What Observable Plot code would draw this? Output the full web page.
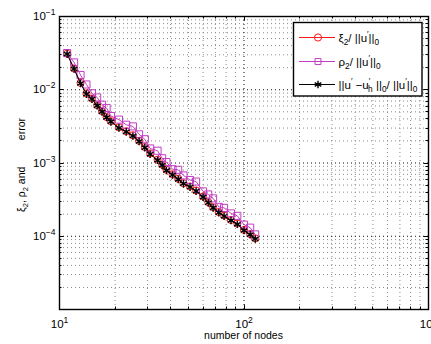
<!DOCTYPE html>
<html><head><meta charset="utf-8">
<script src="https://cdn.jsdelivr.net/npm/d3@7"></script>
<script src="https://cdn.jsdelivr.net/npm/@observablehq/plot@0.6"></script>
<style>body{margin:0;background:#fff;overflow:hidden}</style>
</head><body><div id="chart"></div>
<script>
// number of nodes
const nodes = [11,12,13,14,15,16,17,18,19,21,23,25,27,29,31,34,36,38,41,44,47,51,55,60,64,68,73,78,85,92,100,108,115];
// xi_2 / ||u'||_0
const xi = [0.0310,0.0195,0.0124,0.00890,0.00760,0.00615,0.00510,0.00425,0.00372,0.00307,0.00271,0.00239,0.00201,0.00165,0.00135,0.00111,0.00095,0.00081,0.000700,0.000610,0.000530,0.000478,0.000421,0.000349,0.000292,0.000249,0.000214,0.000192,0.000167,0.000149,0.000122,0.000107,0.0000935];
// rho_2 / ||u'||_0
const rho = [0.0317,0.0236,0.0159,0.0118,0.00895,0.00785,0.00625,0.00564,0.00438,0.00391,0.00333,0.00316,0.00246,0.00211,0.00158,0.00147,0.00116,0.00103,0.000822,0.000807,0.000676,0.000586,0.000558,0.000410,0.000372,0.000329,0.000252,0.000244,0.000205,0.000190,0.000144,0.000131,0.000106];
// ||u' - u'_h||_0 / ||u'||_0
const err = [0.0308,0.0192,0.0122,0.00873,0.00746,0.00604,0.00500,0.00418,0.00365,0.00301,0.00266,0.00234,0.00197,0.00162,0.00132,0.00109,0.00093,0.00079,0.000685,0.000598,0.000520,0.000469,0.000413,0.000342,0.000286,0.000244,0.000210,0.000188,0.000164,0.000146,0.000120,0.000105,0.0000918];

const xTickLabels = [10, 100, 1000];
const yTickLabels = [1e-1, 1e-2, 1e-3, 1e-4];
const xMajor = [10, 100, 1000];
const yMajor = [1e-5, 1e-4, 1e-3, 1e-2, 1e-1];
const xMinor = [], yMinor = [];
for (const d of [10, 100]) for (let k = 2; k <= 9; k++) xMinor.push(d * k);
for (const d of [1e-5, 1e-4, 1e-3, 1e-2]) for (let k = 2; k <= 9; k++) yMinor.push(d * k);

const rows = nodes.map((n, i) => ({n, xi: xi[i], rho: rho[i], err: err[i]}));
const font = '"Liberation Sans", Arial, Helvetica, sans-serif';
const RED = "#ff1a1a", MAG = "#c33cc3";
const expFmt = d => "10^" + Math.round(Math.log10(d));

const chart = Plot.plot({
  width: 431, height: 344,
  marginLeft: 59, marginRight: 3, marginTop: 16, marginBottom: 35,
  style: {fontFamily: font, fontSize: "11.5px", background: "#fff", color: "#000"},
  x: {type: "log", domain: [10, 1000]},
  y: {type: "log", domain: [1e-5, 1e-1]},
  marks: [
    Plot.ruleX(xMinor, {stroke: "#8a8a8a", strokeWidth: 1, strokeDasharray: "1,3"}),
    Plot.ruleY(yMinor, {stroke: "#8a8a8a", strokeWidth: 1, strokeDasharray: "1,3"}),
    Plot.ruleX(xMajor, {stroke: "#111", strokeWidth: 1, strokeDasharray: "1,3"}),
    Plot.ruleY(yMajor, {stroke: "#111", strokeWidth: 1, strokeDasharray: "1,3"}),
    Plot.line(rows, {x: "n", y: "xi", stroke: RED, strokeWidth: 1}),
    Plot.dot(rows, {x: "n", y: "xi", stroke: RED, symbol: "circle", r: 3.6, strokeWidth: 1}),
    Plot.line(rows, {x: "n", y: "rho", stroke: MAG, strokeWidth: 1}),
    Plot.dot(rows, {x: "n", y: "rho", stroke: MAG, symbol: "square", r: 4, strokeWidth: 1}),
    Plot.line(rows, {x: "n", y: "err", stroke: "#000", strokeWidth: 1}),
    Plot.dot(rows, {x: "n", y: "err", stroke: "#000", symbol: "asterisk", r: 3.6, strokeWidth: 1.4}),
    Plot.frame({stroke: "#000", strokeWidth: 1.4}),
    Plot.axisX(xTickLabels, {tickSize: 0, tickPadding: 10, tickFormat: expFmt, label: null, fontSize: 11.5}),
    Plot.axisY(yTickLabels, {tickSize: 0, tickPadding: 4, tickFormat: expFmt, label: null, fontSize: 11.5})
  ]
});
document.getElementById("chart").appendChild(chart);

const svg = d3.select(chart);
// superscript exponents on tick labels
svg.selectAll('g[aria-label="x-axis tick label"] text, g[aria-label="y-axis tick label"] text').each(function () {
  const t = d3.select(this);
  const [b, e] = t.text().split("^");
  t.text(null);
  t.append("tspan").text(b);
  t.append("tspan").attr("dy", "-5px").attr("font-size", "8.5px").text(e.replace("-", "\u2212"));
});

// inward ticks on all four sides
const sx = chart.scale("x"), sy = chart.scale("y");
const [L, R] = sx.range, [B, T] = sy.range;
const tg = svg.append("g").attr("stroke", "#000").attr("stroke-width", 1);
for (const [vals, len] of [[xMajor, 4.5], [xMinor, 2.5]]) for (const v of vals) {
  const x = Math.round(sx.apply(v)) + 0.5;
  tg.append("line").attr("x1", x).attr("x2", x).attr("y1", B).attr("y2", B - len);
  tg.append("line").attr("x1", x).attr("x2", x).attr("y1", T).attr("y2", T + len);
}
for (const [vals, len] of [[yMajor, 4.5], [yMinor, 2.5]]) for (const v of vals) {
  const y = Math.round(sy.apply(v)) + 0.5;
  tg.append("line").attr("y1", y).attr("y2", y).attr("x1", L).attr("x2", L + len);
  tg.append("line").attr("y1", y).attr("y2", y).attr("x1", R).attr("x2", R - len);
}

// rich text helper
function rich(sel, parts, fs) {
  let cur = 0;
  for (const [s, k, dx] of parts) {
    const target = k === "sub" ? 0.32 : k === "sup" ? -0.42 : 0;
    const ts = sel.append("tspan").text(s).attr("dy", ((target - cur) * fs) + "px");
    if (dx) ts.attr("dx", dx + "px");
    if (k !== "n") ts.attr("font-size", (fs * 0.72) + "px");
    cur = target;
  }
}

// axis titles
svg.append("text").attr("x", (L + R) / 2).attr("y", 338.5).attr("text-anchor", "middle")
  .attr("font-family", font).attr("font-size", "10.5px").text("number of nodes");
const yl1 = svg.append("text").attr("transform", "translate(24.5,212) rotate(-90)")
  .attr("font-family", font).attr("font-size", "10.5px").attr("text-anchor", "start");
rich(yl1, [["\u03BE", "n"], ["2", "sub"], [", \u03C1", "n"], ["2", "sub"], [" and", "n"]], 10.5);
svg.append("text").attr("transform", "translate(24.5,118) rotate(-90)")
  .attr("font-family", font).attr("font-size", "10.5px").attr("text-anchor", "end").text("error");

// legend
const lg = svg.append("g");
lg.append("rect").attr("x", 293.5).attr("y", 22.5).attr("width", 128.5).attr("height", 73.5)
  .attr("fill", "#fff").attr("stroke", "#000").attr("stroke-width", 1.4);
const items = [
  {y: 37.5, color: RED, sym: d3.symbolCircle, size: Math.PI * 3.6 * 3.6,
   parts: [["\u03BE", "n"], ["2", "sub"], ["/ ||u", "n"], ["\u2032", "sup"], ["||", "n"], ["0", "sub"]]},
  {y: 61.5, color: MAG, sym: d3.symbolSquare, size: Math.PI * 4 * 4 * 0.7,
   parts: [["\u03C1", "n"], ["2", "sub"], ["/ ||u", "n"], ["\u2032", "sup"], ["||", "n"], ["0", "sub"]]},
  {y: 84.5, color: "#000", sym: d3.symbolAsterisk, size: Math.PI * 3.6 * 3.6, sw: 1.4,
   parts: [["||u", "n"], ["\u2032", "sup"], [" \u2212u", "n"], ["\u2032", "sup"], ["h", "sub", -2.2], [" ||", "n"], ["0", "sub"], ["/ ||u", "n"], ["\u2032", "sup"], ["||", "n"], ["0", "sub"]]}
];
for (const it of items) {
  lg.append("line").attr("x1", 299).attr("x2", 335).attr("y1", it.y).attr("y2", it.y)
    .attr("stroke", it.color).attr("stroke-width", 1);
  lg.append("path").attr("d", d3.symbol(it.sym, it.size)()).attr("transform", `translate(318,${it.y})`)
    .attr("fill", "none").attr("stroke", it.color).attr("stroke-width", it.sw || 1);
  const t = lg.append("text").attr("x", 338.5).attr("y", it.y + 4).attr("text-anchor", "start")
    .attr("font-family", font).attr("font-size", "11.5px");
  rich(t, it.parts, 11.5);
}
</script>
</body></html>
